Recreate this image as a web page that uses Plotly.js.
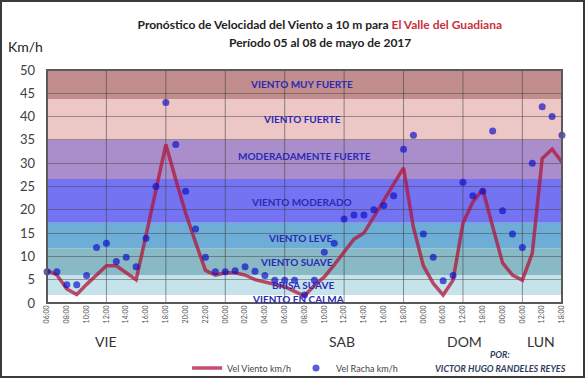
<!DOCTYPE html>
<html><head><meta charset="utf-8">
<script src="https://cdn.plot.ly/plotly-3.0.1.min.js"></script>
<style>
html,body{margin:0;padding:0;background:#fff;}
#frame{width:585px;height:378px;box-sizing:border-box;border:2px solid #3a3a3a;overflow:hidden;background:#fff;}
#chart{width:581px;height:374px;}
</style></head><body>
<div id="frame"><div id="chart"></div></div>
<script>
// ---- data ----
const tickLabels = ["06:00","08:00","10:00","12:00","14:00","16:00","18:00","20:00","22:00","00:00","02:00","04:00","06:00","08:00","10:00","12:00","14:00","16:00","18:00","00:00","06:00","12:00","18:00","00:00","06:00","12:00","18:00"];
const viento = [7,6,3,1.8,4,6,8,8,6.5,5,14.5,24.3,34,26.5,19.3,13,7,6,6.5,6.5,6,5,4.5,4,3.5,2.5,1.5,3.8,5.6,8.2,11,13.7,15,18.5,21.7,25.3,29,16.2,8,4.2,1.7,4.9,17.1,21.7,24.4,16.4,8.6,6,4.9,10.7,31,33,30.2];
const racha = [6.7,6.7,3.9,3.9,5.9,11.9,12.8,8.9,9.8,7.8,13.9,25,43,34,24,15.9,9.8,6.7,6.7,6.9,7.8,6.8,5.9,4.9,4.9,4.9,1.7,4.9,10.9,12.8,18,18.9,18.9,20,20.9,23,33,36,14.8,9.8,4.8,5.9,25.9,23,24,36.9,19.8,14.8,11.9,30,42.1,40,36];
const days = ["VIE","SAB","DOM","LUN"];
const bandLimits = [0,1.7,6,11.7,17.2,26.6,35,43.8,50];
const bandLabels = ["VIENTO EN CALMA","BRISA SUAVE","VIENTO SUAVE","VIENTO LEVE","VIENTO MODERADO","MODERADAMENTE FUERTE","VIENTO FUERTE","VIENTO MUY FUERTE"];
const seriesNames = ["Vel Viento km/h","Vel Racha km/h"];

// ---- layout constants ----
const bandColors = ["#ffffff","#c6e3ec","#89b9c5","#6dadd6","#7474f2","#aa8ecb","#edc6c6","#c18d8d"];
const bandLabelY = [0.8,3.9,8.8,13.9,21.6,31.5,39.4,47];
const bandLabelX = [25.3,25.8,25.2,25.6,25.7,26,25.7,25.7];
const dayX = [5.9,29.8,42.2,49.9];
const FONT = "Lato, 'Open Sans', sans-serif";

const xIdx = viento.map((_, i) => i);
const tickVals = tickLabels.map((_, i) => i * 2);

const traces = [
  {x: xIdx, y: viento, name: seriesNames[0], type: 'scatter', mode: 'lines',
   line: {color: 'rgba(178,20,58,0.75)', width: 3.5}, cliponaxis: false},
  {x: xIdx, y: racha, name: seriesNames[1], type: 'scatter', mode: 'markers',
   marker: {color: 'rgba(15,15,200,0.68)', size: 7}, cliponaxis: false}
];

const shapes = [];
for (let i = 0; i < bandColors.length; i++) {
  shapes.push({type: 'rect', xref: 'paper', yref: 'y', x0: 0, x1: 1,
    y0: bandLimits[i], y1: bandLimits[i + 1], fillcolor: bandColors[i],
    line: {width: 0}, layer: 'below'});
}
tickVals.filter(v => v > 0 && v < 52 && v % 6 === 0).forEach(v => {
  shapes.push({type: 'line', xref: 'x', yref: 'paper', x0: v, x1: v, y0: 0, y1: 1,
    line: {color: 'rgba(60,60,60,0.55)', width: 1}, layer: 'between'});
});
shapes.push({type: 'rect', xref: 'paper', yref: 'paper', x0: 0, x1: 1, y0: 0, y1: 1,
  line: {color: '#5a5a5a', width: 2}, layer: 'above'});

const annotations = [];
const A = (o) => annotations.push(Object.assign({showarrow: false, xanchor: 'center', yanchor: 'middle'}, o));
bandLabels.forEach((t, i) => A({
  x: bandLabelX[i], y: bandLabelY[i], xref: 'x', yref: 'y', text: '<b>' + t + '</b>',
  font: {family: FONT, size: 10, color: '#2a2ab5'}
}));
days.forEach((d, i) => A({
  x: dayX[i], y: -0.167, xref: 'x', yref: 'paper', text: d,
  font: {family: FONT, size: 14, color: '#333'}
}));
A({x: -0.041, y: 1.099, xref: 'paper', yref: 'paper', text: 'Km/h',
  font: {family: FONT, size: 14, color: '#222'}});
A({x: 0.531, y: 1.12, xref: 'paper', yref: 'paper',
  text: '<b>Período 05 al 08 de mayo de 2017</b>',
  font: {family: FONT, size: 12, color: '#222'}});
A({x: 0.88, y: -0.223, xref: 'paper', yref: 'paper',
  text: '<b><i>POR:</i></b>', font: {family: FONT, size: 9, color: '#2e3d5c'}});
A({x: 0.88, y: -0.281, xref: 'paper', yref: 'paper',
  text: '<b><i>VICTOR HUGO RANDELES REYES</i></b>', font: {family: FONT, size: 9, color: '#2e3d5c'}});

const layout = {
  width: 581, height: 374,
  margin: {l: 45, r: 21, t: 68, b: 73, autoexpand: false},
  paper_bgcolor: '#ffffff', plot_bgcolor: '#ffffff',
  title: {text: '<b>Pronóstico de Velocidad del Viento a 10 m para <span style="color:#c8323c">El Valle del Guadiana</span></b>',
    xref: 'container', yref: 'container', x: 0.547, xanchor: 'center', y: 0.94, yanchor: 'middle',
    font: {family: FONT, size: 12, color: '#222'}},
  xaxis: {range: [0, 52], tickvals: tickVals, ticktext: tickLabels, tickangle: -90,
    tickfont: {family: FONT, size: 7, color: '#555'}, showgrid: false, zeroline: false,
    showline: false, ticks: '', fixedrange: true, automargin: false},
  yaxis: {range: [0, 50], dtick: 5, tick0: 0, tickfont: {family: FONT, size: 13, color: '#404040'},
    gridcolor: 'rgba(60,60,60,0.45)', gridwidth: 1, zeroline: false, showline: false,
    ticks: '', ticklabelstandoff: 11, fixedrange: true, automargin: false},
  showlegend: true,
  legend: {orientation: 'h', x: 0.272, xanchor: 'left', y: -0.279, yanchor: 'middle',
    font: {family: FONT, size: 9, color: '#444'}, bgcolor: 'rgba(0,0,0,0)'},
  shapes: shapes,
  annotations: annotations
};

Plotly.newPlot('chart', traces, layout, {displayModeBar: false, staticPlot: true});
</script>
</body></html>
